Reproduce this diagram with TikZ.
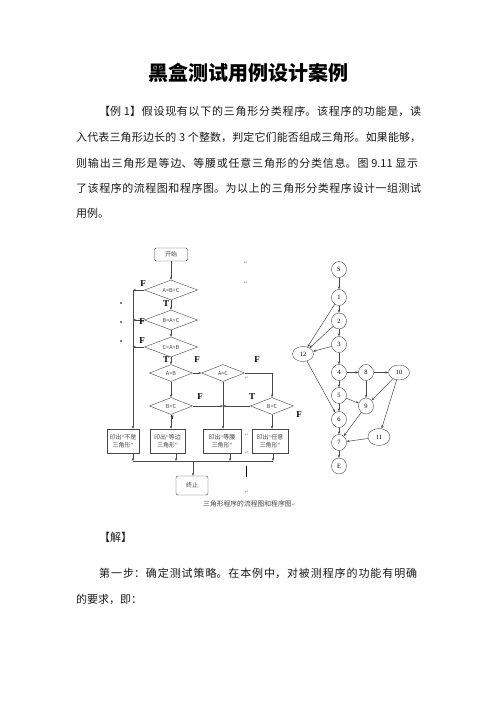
\documentclass[tikz,border=0pt]{standalone}
\usepackage{fontspec}
\setmainfont{Noto Sans CJK SC}
\newfontfamily\serifF{Liberation Serif}
\newfontfamily\markfont{DejaVu Sans}
\usetikzlibrary{arrows.meta,shapes.geometric}
\definecolor{linegray}{RGB}{70,70,70}
\definecolor{markgray}{RGB}{150,150,150}
\definecolor{textblack}{RGB}{25,25,25}
\XeTeXlinebreaklocale "zh"
\XeTeXlinebreakskip=0pt plus 3pt
\newcommand{\fillline}[2]{\parbox{#1}{\spaceskip=0.25em\relax\parfillskip=0pt\relax #2}}
\newcommand{\outtext}[1]{印出{\serifF“}#1\\三角形{\serifF”}}

\begin{document}
\begin{tikzpicture}[>={Stealth[length=3pt,width=2.4pt]}, x=1pt, y=-1pt,
    line/.style={draw=linegray, line width=0.5pt},
    box/.style={draw=linegray, fill=white, inner sep=0.5pt, align=center,
                minimum width=34pt, minimum height=24pt, text=linegray,
                font=\fontsize{6}{8.5}\selectfont},
    endbox/.style={box, rounded corners=1.5pt, minimum height=14pt},
    test/.style={diamond, draw=linegray, aspect=2.6, inner sep=0pt,
                 minimum width=43pt, minimum height=17pt, text=linegray,
                 font=\fontsize{5.5}{6}\selectfont},
    bigtest/.style={test, minimum width=53pt, minimum height=20pt},
    tf/.style={font=\fontsize{9}{9}\selectfont\serifF\bfseries, inner sep=0pt},
    vtx/.style={ellipse, draw=linegray, minimum width=15pt, minimum height=16pt,
                inner sep=0pt, font=\fontsize{6.5}{6.5}\selectfont\serifF},
    wide/.style={vtx, minimum width=21pt, minimum height=15pt},
    para/.style={anchor=west, inner sep=0pt, text=textblack,
                 font=\fontsize{11}{11}\selectfont},
    retmark/.style={text=markgray, inner sep=0pt, font=\fontsize{5}{5}\selectfont\markfont}]
  \useasboundingbox (0,0) rectangle (496,702);

  % Text
  \node[font=\fontsize{20}{20}\selectfont\bfseries] (title) at (248,73) {黑盒测试用例设计案例};
  \node[para] (p1) at (99,111) {\fillline{322pt}{【例 1】假设现有以下的三角形分类程序。该程序的功能是，读}};
  \node[para] (p2) at (76,137) {\fillline{345pt}{入代表三角形边长的 3 个整数，判定它们能否组成三角形。如果能够，}};
  \node[para] (p3) at (76,163) {\fillline{342pt}{则输出三角形是等边、等腰或任意三角形的分类信息。图 9.11 显示}};
  \node[para] (p4) at (76,188) {\fillline{345pt}{了该程序的流程图和程序图。为以上的三角形分类程序设计一组测试}};
  \node[para] (p5) at (76,213) {用例。};

  % Flowchart
  \node[endbox, minimum width=33pt, minimum height=13pt] (start) at (171,254.5) {开始};
  \node[bigtest] (t1) at (171,290) {A<B+C};
  \node[bigtest] (t2) at (171,320) {B<A+C};
  \node[bigtest] (t3) at (171,347) {C<A+B};
  \node[test] (ab) at (171,373) {A=B};
  \node[test] (ac) at (223,373) {A=C};
  \node[test] (bc1) at (171,406) {B=C};
  \node[test] (bc2) at (272,406) {B=C};
  \node[box, minimum width=32pt] (out1) at (123,441) {\outtext{不是}};
  \node[box, minimum width=35pt] (out2) at (167.5,441) {\outtext{等边}};
  \node[box, minimum width=38pt] (out3) at (222,441) {\outtext{等腰}};
  \node[box, minimum width=36pt] (out4) at (270,441) {\outtext{任意}};
  \node[endbox, minimum width=32pt, minimum height=19pt] (stop) at (192,485.5) {终止};

  \coordinate (f1) at (133,290);
  \coordinate (f2) at (133,320);
  \coordinate (f3) at (133,347);
  \coordinate (mid) at (223,406);
  \coordinate (m0) at (193,461);
  \coordinate (m1) at (133,461);
  \coordinate (m2) at (176,461);
  \coordinate (m3) at (230,461);
  \coordinate (m4) at (273,461);

  \draw[->, line] (start) -- (t1);
  \draw[->, line] (t1) -- (t2);
  \draw[->, line] (t2) -- (t3);
  \draw[->, line] (t3) -- (ab);
  \draw[->, line] (ab) -- (ac);
  \draw[->, line] (ab) -- (bc1);
  \draw[->, line] (ac.south) -- (ac.south |- out3.north);
  \draw[->, line] (ac.east) -| (bc2.north);
  \draw[->, line] (bc1.east) -- (mid);
  \draw[->, line] (bc2.west) -- (mid);
  \draw[->, line] (bc1.south) -- (bc1.south |- out2.north);
  \draw[->, line] (bc2.south) -- (bc2.south |- out4.north);
  \draw[->, line] (t1.west) -- (f1);
  \draw[->, line] (t2.west) -- (f2);
  \draw[->, line] (t3.west) -- (f3);
  \draw[->, line] (f1) -- (f1 |- out1.north);
  \foreach \o/\m in {out1/m1, out2/m2, out3/m3, out4/m4}
    \draw[->, line] (\o.south -| \m) -- (\m);
  \draw[line] (m1) -- (m4);
  \draw[->, line] (m0) -- (m0 |- stop.north);

  % T/F labels
  \node[tf] (lf1) at (143,284) {F};
  \node[tf] (lf2) at (142,322) {F};
  \node[tf] (lf3) at (142,341) {F};
  \node[tf] (lt1) at (166,303.5) {T};
  \node[tf] (lt3) at (166,360) {T};
  \node[tf] (lf4) at (197,360) {F};
  \node[tf] (lf5) at (257,360) {F};
  \node[tf] (lf6) at (200,397) {F};
  \node[tf] (lt4) at (252,397) {T};
  \node[tf] (lf7) at (299,415) {F};
  \node[tf, font=\fontsize{5}{5}\selectfont\serifF\bfseries] (lt2) at (172.5,417.5) {T};

  % Marks
  \foreach \y in {303,322,341}
    \fill (121,\y) circle (0.8);
  \foreach \p/\q in {246/263, 246/283, 247/378, 247/435, 247/453, 247/492}
    \node[retmark] at (\p,\q) {↵};
  \draw[line width=0.8pt] (246,466) -- (246,477);

  % Program graph
  \node[vtx] (S) at (339,269.5) {S};
  \node[vtx] (n1) at (339,297.5) {1};
  \node[vtx] (n2) at (339,321) {2};
  \node[vtx] (n3) at (339,344.5) {3};
  \node[wide] (n12) at (303,354) {12};
  \node[vtx] (n4) at (339,372.5) {4};
  \node[vtx] (n8) at (366,372.5) {8};
  \node[wide] (n10) at (399,372.5) {10};
  \node[vtx] (n5) at (339,395.5) {5};
  \node[vtx] (n9) at (366,406) {9};
  \node[vtx] (n6) at (339,419.5) {6};
  \node[vtx] (n7) at (339,442.5) {7};
  \node[wide, minimum width=22pt, minimum height=17pt] (n11) at (379,437) {11};
  \node[vtx] (E) at (339,466) {E};

  \foreach \a/\b in {S/n1, n1/n2, n1/n12, n2/n3, n2/n12, n3/n12, n3/n4, n4/n8,
                     n8/n10, n4/n5, n8/n9, n5/n9, n10/n9, n10/n11, n5/n6,
                     n12/n6, n6/n7, n9/n7, n11/n7, n7/E}
    \draw[->, line] (\a) -- (\b);

  \node[font=\fontsize{6.8}{7}\selectfont, text=linegray] (cap) at (249.5,504)
    {三角形程序的流程图和程序图{\markfont\color{markgray}\fontsize{5}{5}\selectfont ↵}};

  % Solution
  \node[para] (sol) at (99,537) {【解】};
  \node[para] (s1) at (99,573) {\fillline{318pt}{第一步：确定测试策略。在本例中，对被测程序的功能有明确}};
  \node[para] (s2) at (76,599) {的要求，即：};
\end{tikzpicture}
\end{document}
